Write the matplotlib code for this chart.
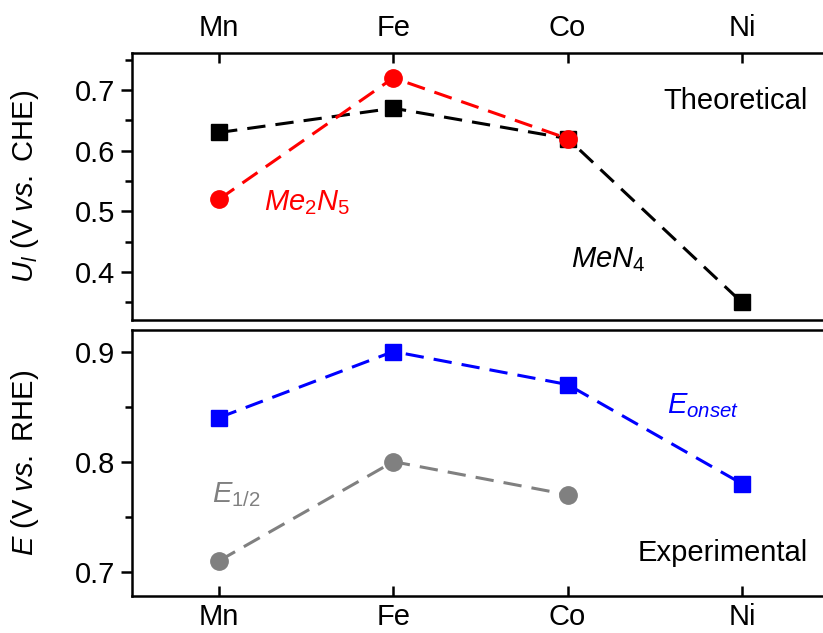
import matplotlib
matplotlib.use("Agg")
import matplotlib.pyplot as plt
from matplotlib.ticker import MultipleLocator

plt.rcParams['font.family'] = ['Liberation Sans', 'DejaVu Sans']
plt.rcParams['mathtext.fontset'] = 'custom'
plt.rcParams['mathtext.rm'] = 'Liberation Sans'
plt.rcParams['mathtext.it'] = 'Liberation Sans:italic'
plt.rcParams['mathtext.bf'] = 'Liberation Sans:bold'

metals = ['Mn', 'Fe', 'Co', 'Ni']
men4_ul = [0.63, 0.67, 0.62, 0.35]
me2n5_ul = [0.52, 0.72, 0.62]
e_onset = [0.84, 0.90, 0.87, 0.78]
e_half = [0.71, 0.80, 0.77]

W, H = 823, 633
fig = plt.figure(figsize=(W / 100, H / 100), dpi=100)

def px(l, t, r, b):
    return [l / W, 1 - b / H, (r - l) / W, (b - t) / H]

ax1 = fig.add_axes(px(132, 53, 829, 320))
ax2 = fig.add_axes(px(132, 329.5, 829, 596))

x4 = list(range(len(metals)))
x3 = x4[:3]
ls = (0, (6, 3.3))
lw = 2.2
fs = 21

ax1.plot(x4, men4_ul, color='black', ls=ls, lw=lw, marker='s', ms=11, zorder=3)
ax1.plot(x3, me2n5_ul, color='#ff0000', ls=ls, lw=lw, marker='o', ms=12.5, zorder=4)
ax2.plot(x4, e_onset, color='#0000ff', ls=ls, lw=lw, marker='s', ms=11, zorder=3)
ax2.plot(x3, e_half, color='#808080', ls=ls, lw=lw, marker='o', ms=12.5, zorder=3)

for ax in (ax1, ax2):
    ax.set_xlim(-0.5, 3.5)
    ax.set_xticks(x4)
    ax.set_xticklabels(metals)
    for s in ax.spines.values():
        s.set_linewidth(1.8)
    ax.tick_params(axis='y', which='major', direction='out', length=8, width=1.8, labelsize=fs, pad=4)
    ax.tick_params(axis='y', which='minor', direction='out', length=5, width=1.8)
    ax.tick_params(axis='x', which='major', direction='in', length=7, width=1.8, labelsize=fs, pad=8)

ax1.set_ylim(0.321, 0.761)
ax1.yaxis.set_minor_locator(MultipleLocator(0.05))
ax1.xaxis.tick_top()
ax1.tick_params(axis='x', which='both', bottom=False, labelbottom=False)
ax1.set_yticks([0.4, 0.5, 0.6, 0.7])
ax1.set_yticklabels(['0.4', '0.5', '0.6', '0.7'])

ax2.set_ylim(0.678, 0.92)
ax2.set_yticks([0.7, 0.8, 0.9])
ax2.set_yticklabels(['0.7', '0.8', '0.9'])
ax2.yaxis.set_minor_locator(MultipleLocator(0.05))
ax2.tick_params(axis='x', which='both', top=False, pad=5)

ax1.set_ylabel(r'$U_l$ (V $vs.$ CHE)', fontsize=fs)
ax2.set_ylabel(r'$E$ (V $vs.$ RHE)', fontsize=fs)
ax1.yaxis.set_label_coords(-0.13, 0.5)
ax2.yaxis.set_label_coords(-0.13, 0.5)

ax1.text(0.97, 0.82, 'Theoretical', transform=ax1.transAxes, ha='right', va='center', fontsize=fs)
ax2.text(0.97, 0.16, 'Experimental', transform=ax2.transAxes, ha='right', va='center', fontsize=fs)

ax1.text(0.26, 0.515, r'$Me_2N_5$', color='#ff0000', fontsize=fs, ha='left', va='center')
ax1.text(2.02, 0.42, r'$MeN_4$', color='black', fontsize=fs, ha='left', va='center')
ax2.text(2.57, 0.851, r'$E_{onset}$', color='#0000ff', fontsize=fs, ha='left', va='center')
ax2.text(-0.04, 0.77, r'$E_{1/2}$', color='#808080', fontsize=fs, ha='left', va='center')

fig.savefig('out.png', dpi=100)
